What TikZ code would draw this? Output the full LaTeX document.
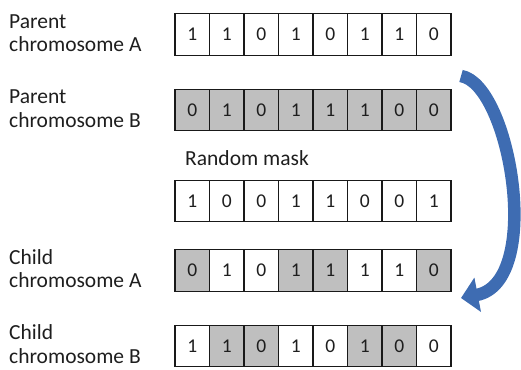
\documentclass[tikz,border=0pt]{standalone}
\usepackage{fontspec}
\setmainfont{Carlito}
\usetikzlibrary{positioning,arrows.meta,calc}
\definecolor{CellGray}{RGB}{191,191,191}
\definecolor{CellLine}{RGB}{25,25,25}
\definecolor{ArrowBlue}{RGB}{62,108,178}
\definecolor{TextDark}{RGB}{30,30,30}

\begin{document}
\begin{tikzpicture}[
  x=1pt, y=-1pt,
  font=\fontsize{21.5}{23.5}\selectfont,
  bit/.style={
    rectangle, draw=CellLine, line width=1.3pt, fill=white,
    inner sep=0pt, outer sep=0pt, minimum width=34.5pt, minimum height=41.5pt,
    text=TextDark, font=\fontsize{19.5}{19.5}\selectfont
  },
  lbl/.style={anchor=west, align=left, text=TextDark, inner sep=0pt},
  bigarrow/.style={draw=ArrowBlue, line width=12.5pt, -{Triangle[width=34pt,length=17pt]}}
]
\useasboundingbox (0,0) rectangle (521,369);

% --- PARENT CHROMOSOME A ---
\node[lbl] (pAlbl) at (9,33) {Parent\\chromosome A};
\foreach \i/\v/\c in {1/1/white,2/1/white,3/0/white,4/1/white,
                      5/0/white,6/1/white,7/1/white,8/0/white}
  \node[bit, fill=\c] (pA\i) at (157.75+\i*34.5,34.5) {\v};

% --- PARENT CHROMOSOME B ---
\node[lbl] (pBlbl) at (9,108.5) {Parent\\chromosome B};
\foreach \i/\v/\c in {1/0/CellGray,2/1/CellGray,3/0/CellGray,4/1/CellGray,
                      5/1/CellGray,6/1/CellGray,7/0/CellGray,8/0/CellGray}
  \node[bit, fill=\c] (pB\i) at (157.75+\i*34.5,110) {\v};

% --- RANDOM MASK ---
\node[text=TextDark, anchor=base west, inner sep=0pt] (maskLbl) at (185,165) {Random mask};
\foreach \i/\v/\c in {1/1/white,2/0/white,3/0/white,4/1/white,
                      5/1/white,6/0/white,7/0/white,8/1/white}
  \node[bit, fill=\c] (mk\i) at (157.75+\i*34.5,201) {\v};

% --- CHILD CHROMOSOME A ---
\node[lbl] (cAlbl) at (9,268.5) {Child\\chromosome A};
\foreach \i/\v/\c in {1/0/CellGray,2/1/white,3/0/white,4/1/CellGray,
                      5/1/CellGray,6/1/white,7/1/white,8/0/CellGray}
  \node[bit, fill=\c] (cA\i) at (157.75+\i*34.5,270.5) {\v};

% --- CHILD CHROMOSOME B ---
\node[lbl] (cBlbl) at (9,344) {Child\\chromosome B};
\foreach \i/\v/\c in {1/1/white,2/1/CellGray,3/0/CellGray,4/1/white,
                      5/0/white,6/1/CellGray,7/0/CellGray,8/0/white}
  \node[bit, fill=\c] (cB\i) at (157.75+\i*34.5,346) {\v};

% --- crossover arrow ---
\coordinate (arrTail) at (461,76);
\coordinate (arrTip) at (461,298);
\draw[bigarrow] (arrTail) .. controls (510,84) and (544,282) .. (arrTip);

\end{tikzpicture}
\end{document}
